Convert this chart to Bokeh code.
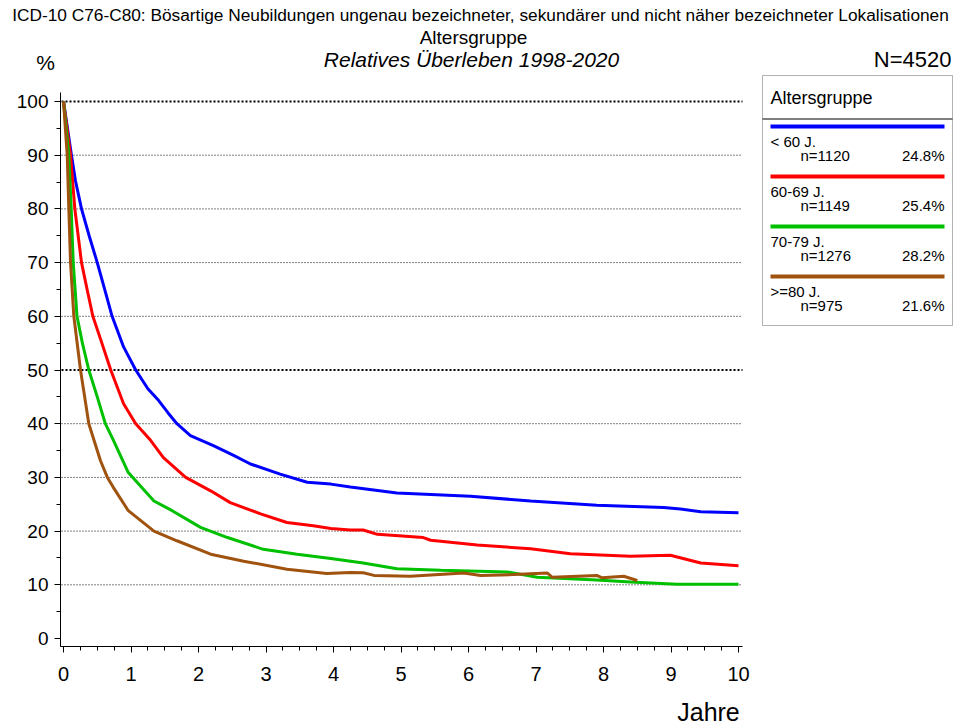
from bokeh.plotting import figure
from bokeh.models import Range1d, FixedTicker, LinearAxis, Label, BoxAnnotation
from bokeh.embed import file_html
from bokeh.resources import INLINE

# ---------------- data ----------------
groups = ["< 60 J.", "60-69 J.", "70-79 J.", ">=80 J."]
group_n = ["n=1120", "n=1149", "n=1276", "n=975"]
group_pct = ["24.8%", "25.4%", "28.2%", "21.6%"]
colors = ["#0000FF", "#FF0000", "#00C000", "#A0520F"]

t_lt60 = [0, 0.118, 0.178, 0.267, 0.38, 0.5, 0.61, 0.72, 0.89, 1.07, 1.25, 1.41, 1.55, 1.68,
          1.88, 2.22, 2.52, 2.77, 3.21, 3.61, 3.96, 4.25, 4.94, 6.03, 6.92, 7.9, 8.89, 9.14, 9.44, 10.0]
s_lt60 = [100, 90, 85.2, 80, 75, 70, 65, 60, 54.3, 50, 46.5, 44.3, 42, 40,
          37.8, 35.9, 34.1, 32.5, 30.6, 29.1, 28.75, 28.2, 27.1, 26.5, 25.6, 24.8, 24.4, 24.1, 23.6, 23.4]

t_6069 = [0, 0.104, 0.168, 0.267, 0.35, 0.435, 0.55, 0.70, 0.89, 1.07, 1.29, 1.48, 1.81, 2.18,
          2.47, 2.92, 3.31, 3.7, 3.96, 4.25, 4.44, 4.65, 5.33, 5.44, 6.13, 6.92, 7.51, 8.4, 8.99,
          9.44, 10.0]
s_6069 = [100, 90, 80, 70, 65, 60, 55.7, 50, 43.7, 40, 36.9, 33.7, 30, 27.5,
          25.3, 23.2, 21.6, 21, 20.5, 20.2, 20.2, 19.4, 18.8, 18.3, 17.4, 16.7, 15.8, 15.3, 15.5,
          14.05, 13.55]

t_7079 = [0, 0.079, 0.114, 0.144, 0.2, 0.28, 0.375, 0.5, 0.62, 0.74, 0.96, 1.34, 1.61, 2.03,
          2.43, 2.96, 3.46, 3.96, 4.44, 4.94, 5.59, 6.57, 7.02, 7.9, 8.4, 9.09, 10.0]
s_7079 = [100, 90, 80, 70, 60, 55, 50, 45, 40, 36.9, 30.9, 25.6, 23.8, 20.7,
          18.8, 16.6, 15.7, 14.9, 14.05, 13.0, 12.7, 12.4, 11.4, 10.9, 10.5, 10.1, 10.1]

t_ge80 = [0, 0.055, 0.079, 0.104, 0.153, 0.252, 0.375, 0.548, 0.65, 0.74, 0.96, 1.34, 1.68,
          2.18, 2.67, 3.31, 3.9, 4.25, 4.44, 4.6, 5.14, 5.93, 6.18, 6.67, 7.17, 7.24, 7.9, 7.98,
          8.3, 8.5]
s_ge80 = [100, 90, 80, 70, 60, 50, 40, 33.1, 30, 28.1, 23.8, 20.0, 18.2,
          15.7, 14.4, 12.9, 12.1, 12.3, 12.25, 11.75, 11.6, 12.2, 11.75, 11.9, 12.2, 11.4, 11.75,
          11.3, 11.6, 10.8]

series_t = [t_lt60, t_6069, t_7079, t_ge80]
series_s = [s_lt60, s_6069, s_7079, s_ge80]

x_ticks = list(range(0, 11))
x_minor = [i * 0.25 for i in range(0, 41)]
y_ticks = list(range(0, 101, 10))
y_minor = list(range(0, 101, 5))
grid_light = [10, 20, 30, 40, 60, 70, 80, 90]
grid_bold = [50, 100]

title_main = "ICD-10 C76-C80: Bösartige Neubildungen ungenau bezeichneter, sekundärer und nicht näher bezeichneter Lokalisationen"
title_group = "Altersgruppe"
title_sub = "Relatives Überleben 1998-2020"
total_n = "N=4520"
y_unit = "%"
x_label = "Jahre"
legend_title = "Altersgruppe"

FONT = "Liberation Sans"

# ---------------- layout (page pixels) ----------------
W, H = 954, 724
X0PX, XPY = 63.0, 67.5      # page x of t=0, pixels per year
Y0PX, YPU = 638.0, 5.37     # page y of 0 %, pixels per percent
AXL, AXB, AXT, AXR = 60, 646, 92, 742   # axis extents in page pixels


def t_of(px):
    return (px - X0PX) / XPY


def v_of(py):
    return (Y0PX - py) / YPU


p = figure(width=W, height=H, output_backend="svg", toolbar_location=None,
           x_range=Range1d(t_of(0), t_of(W)), y_range=Range1d(v_of(H), v_of(0)),
           x_axis_location=None, y_axis_location=None,
           min_border=0, min_border_left=0, min_border_right=0,
           min_border_top=0, min_border_bottom=0)
p.outline_line_color = None
p.background_fill_color = "white"
p.border_fill_color = "white"
p.xgrid.visible = False
p.ygrid.visible = False
p.title.visible = False

xax = LinearAxis(fixed_location=v_of(AXB), bounds=(t_of(AXL), t_of(AXR)),
                 ticker=FixedTicker(ticks=x_ticks, minor_ticks=x_minor))
yax = LinearAxis(fixed_location=t_of(AXL), bounds=(v_of(AXB), v_of(AXT)),
                 ticker=FixedTicker(ticks=y_ticks, minor_ticks=y_minor))
for ax in (xax, yax):
    ax.axis_line_color = "black"
    ax.axis_line_width = 1
    ax.major_tick_in = 0
    ax.major_tick_out = 6
    ax.minor_tick_in = 0
    ax.minor_tick_out = 4
    ax.major_tick_line_color = "black"
    ax.minor_tick_line_color = "black"
    ax.major_label_text_font = FONT
    ax.major_label_text_color = "black"
xax.major_label_text_font_size = "20px"
yax.major_label_text_font_size = "19px"
xax.major_label_standoff = 14
yax.major_label_standoff = 6
p.add_layout(xax, "below")
p.add_layout(yax, "left")

# horizontal dotted reference lines at the tick values
gx0, gx1 = t_of(AXL + 1), t_of(AXR)
p.segment(x0=[gx0] * len(grid_light), x1=[gx1] * len(grid_light), y0=grid_light, y1=grid_light,
          line_color="black", line_width=1, line_dash="1 2")
p.segment(x0=[gx0] * len(grid_bold), x1=[gx1] * len(grid_bold), y0=grid_bold, y1=grid_bold,
          line_color="black", line_width=2, line_dash="2 2")

for ts, ss, c in zip(series_t, series_s, colors):
    p.line(ts, ss, line_color=c, line_width=3)


def sx(px):
    return px


def sy(py):
    return H - py


def lab(text, px, py, size, align="left", style="normal"):
    p.add_layout(Label(x=sx(px), y=sy(py), x_units="screen", y_units="screen", text=text,
                       text_font=FONT, text_font_size=size, text_font_style=style,
                       text_color="black", text_align=align, text_baseline="middle"))


def box(l, r, t, b, fill=None, line=None, lw=1):
    p.add_layout(BoxAnnotation(left=sx(l), right=sx(r), top=sy(t), bottom=sy(b),
                               left_units="screen", right_units="screen",
                               top_units="screen", bottom_units="screen",
                               fill_color=fill if fill else "white",
                               fill_alpha=1 if fill else 0,
                               line_color=line, line_width=lw, level="overlay"))


# titles
lab(title_main, 480, 14, "17.3px", align="center")
lab(title_group, 473, 37, "19px", align="center")
lab(title_sub, 471, 59, "21px", align="center", style="italic")
lab(y_unit, 45, 62, "21px", align="center")
lab(total_n, 951, 59, "22px", align="right")
lab(x_label, 708, 711, "25px", align="center")

# legend
LL, LR, LT, LB = 762, 952, 75, 325
box(LL, LR, LT, LB, fill=None, line="black", lw=1)
box(LL, LR, 118, 119, fill="black", line=None)
lab(legend_title, LL + 8, 97, "18px")
for i, (g, n, pc, c) in enumerate(zip(groups, group_n, group_pct, colors)):
    y0 = 126 + 50 * i
    box(LL + 8, LR - 8, y0 - 2, y0 + 2, fill=c, line=None)
    lab(g, LL + 8, y0 + 15, "15px")
    lab(n, LL + 38, y0 + 29, "15px")
    lab(pc, LR - 8, y0 + 29, "15px", align="right")

open("out.html", "w").write(file_html(p, INLINE))
